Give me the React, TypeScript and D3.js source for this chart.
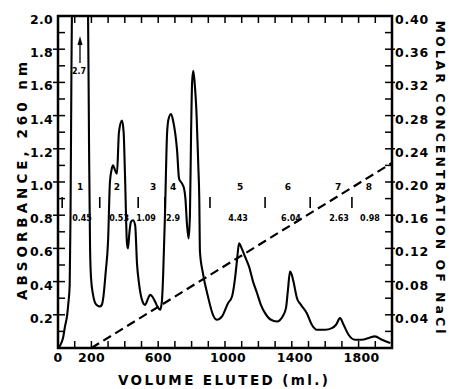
import React from "react";
import * as d3 from "d3";

const volume = [0, 15, 30, 42, 55, 62, 70, 75, 80, 84, 100, 130, 160, 180, 186, 192, 198, 210, 230, 250, 262, 272, 285, 300, 311, 320, 330, 342, 353, 365, 383, 393, 401, 413, 419, 428, 437, 449, 462, 473, 485, 503, 521, 540, 551, 565, 581, 595, 611, 622, 630, 641, 653, 662, 677, 689, 713, 725, 743, 755, 763, 772, 782, 790, 797, 803, 810, 818, 830, 840, 846, 850, 868, 898, 928, 952, 982, 1018, 1042, 1060, 1072, 1084, 1100, 1120, 1144, 1168, 1192, 1215, 1240, 1275, 1311, 1345, 1365, 1377, 1389, 1400, 1410, 1431, 1455, 1490, 1520, 1550, 1600, 1640, 1665, 1689, 1710, 1740, 1778, 1820, 1860, 1898, 1940, 1990];
const absorbance = [0, 0.02, 0.06, 0.13, 0.2, 0.27, 0.38, 0.8, 1.6, 2.1, 2.55, 2.7, 2.55, 2.0, 1.2, 0.6, 0.42, 0.32, 0.26, 0.25, 0.26, 0.31, 0.45, 0.65, 1.0, 1.07, 1.1, 1.07, 1.05, 1.3, 1.37, 1.3, 1.05, 0.63, 0.6, 0.7, 0.76, 0.77, 0.74, 0.51, 0.39, 0.29, 0.26, 0.3, 0.32, 0.31, 0.28, 0.25, 0.23, 0.28, 0.45, 0.82, 1.29, 1.38, 1.41, 1.37, 1.19, 1.02, 0.99, 0.96, 0.9, 0.75, 0.66, 0.8, 1.3, 1.6, 1.67, 1.6, 1.4, 1.1, 0.9, 0.58, 0.45, 0.31, 0.2, 0.17, 0.19, 0.27, 0.31, 0.42, 0.53, 0.63, 0.6, 0.55, 0.49, 0.4, 0.33, 0.26, 0.21, 0.17, 0.16, 0.19, 0.24, 0.35, 0.46, 0.44, 0.4, 0.3, 0.26, 0.21, 0.14, 0.11, 0.11, 0.12, 0.14, 0.18, 0.14, 0.08, 0.05, 0.05, 0.06, 0.07, 0.05, 0.03];

const gradientVolume = [200, 2000];
const gradientMolar = [0, 0.223];

const fractionBounds = [25, 250, 480, 640, 910, 1240, 1510, 1760];
const fractionNames = ["1", "2", "3", "4", "5", "6", "7", "8"];
const fractionNamePos = [132, 353, 569, 689, 1090, 1377, 1677, 1862];
const fractionValues = ["0.45", "0.53", "1.09", "2.9", "4.43", "6.04", "2.63", "0.98"];
const fractionValuePos = [144, 366, 527, 689, 1078, 1395, 1683, 1868];

const xTickLabels = [0, 200, 600, 1000, 1400, 1800];
const leftTickLabels = [0.2, 0.4, 0.6, 0.8, 1.0, 1.2, 1.4, 1.6, 1.8, 2.0];
const rightTickLabels = [0.04, 0.08, 0.12, 0.16, 0.2, 0.24, 0.28, 0.32, 0.36, 0.4];

const FONT = "'DejaVu Sans', sans-serif";

export default function App() {
  const L = 58, R = 392, T = 16, B = 348;
  const x = d3.scaleLinear().domain([0, 2000]).range([L, R]);
  const y = d3.scaleLinear().domain([0, 2.0]).range([B, T]);
  const yR = d3.scaleLinear().domain([0, 0.4]).range([B, T]);

  const pts = volume.map((v, i) => [v, absorbance[i]] as [number, number]);
  const line = d3.line<[number, number]>().x(d => x(d[0])).y(d => y(d[1])).curve(d3.curveMonotoneX);
  const gradLine = d3.line<[number, number]>().x(d => x(d[0])).y(d => yR(d[1]));
  const gradPts = gradientVolume.map((v, i) => [v, gradientMolar[i]] as [number, number]);

  const minorX = d3.range(100, 2000, 100);
  const leftTicks = d3.range(1, 20).map(i => i / 10);
  const rightTicks = d3.range(1, 20).map(i => i / 50);

  return (
    <svg width={453} height={389} style={{ position: "absolute", left: 0, top: 0, background: "#fff" }} fontFamily={FONT}>
      <defs>
        <clipPath id="plot">
          <rect x={L} y={T} width={R - L} height={B - T} />
        </clipPath>
      </defs>
      <rect x={0} y={0} width={453} height={389} fill="#fff" />
      {/* curve */}
      <g clipPath="url(#plot)">
        <path d={line(pts) || ""} fill="none" stroke="#000" strokeWidth={2.1} strokeLinejoin="round" />
        <path d={gradLine(gradPts) || ""} fill="none" stroke="#000" strokeWidth={2.2} strokeDasharray="9,5" />
      </g>
      {/* frame */}
      <rect x={L} y={T} width={R - L} height={B - T} fill="none" stroke="#000" strokeWidth={2.5} />
      {/* bottom & top ticks */}
      {minorX.map(v => (
        <g key={"xt" + v}>
          <line x1={x(v)} x2={x(v)} y1={B} y2={B - 7} stroke="#000" strokeWidth={1.5} />
          <line x1={x(v)} x2={x(v)} y1={T} y2={T + 7} stroke="#000" strokeWidth={1.5} />
        </g>
      ))}
      {/* left ticks */}
      {leftTicks.map((v, i) => {
        const major = (i + 1) % 2 === 0;
        return <line key={"lt" + i} x1={major ? L - 5 : L} x2={L + 7} y1={y(v)} y2={y(v)} stroke="#000" strokeWidth={1.5} />;
      })}
      {/* right ticks */}
      {rightTicks.map((v, i) => {
        const major = (i + 1) % 2 === 0;
        return <line key={"rt" + i} x1={R - 7} x2={major ? R + 3 : R} y1={yR(v)} y2={yR(v)} stroke="#000" strokeWidth={1.5} />;
      })}
      {/* tick labels */}
      {leftTickLabels.map(v => (
        <text key={"ll" + v} x={L - 5} y={y(v) + 8} textAnchor="end" fontSize={12.5} fontWeight="bold" letterSpacing={0.3}>{v.toFixed(1)}</text>
      ))}
      {rightTickLabels.map(v => (
        <text key={"rl" + v} x={R + 3} y={yR(v) + 8} textAnchor="start" fontSize={12.5} fontWeight="bold" letterSpacing={0.8}>{v.toFixed(2)}</text>
      ))}
      {xTickLabels.map(v => (
        <text key={"xl" + v} x={x(v) + (v >= 1000 ? 3 : 0)} y={362} textAnchor="middle" fontSize={12.5} fontWeight="bold" letterSpacing={0.3}>{String(v)}</text>
      ))}
      {/* axis titles */}
      <text x={223} y={385} textAnchor="middle" fontSize={13.5} fontWeight="bold" textLength={210} lengthAdjust="spacing">VOLUME ELUTED (ml.)</text>
      <text transform="translate(27,181) rotate(-90)" textAnchor="middle" fontSize={13.5} fontWeight="bold" textLength={238} lengthAdjust="spacing">ABSORBANCE, 260 nm</text>
      <text transform="translate(436,177) rotate(90)" textAnchor="middle" fontSize={12.5} fontWeight="bold" textLength={313} lengthAdjust="spacing">MOLAR CONCENTRATION OF NaCl</text>
      {/* fractions */}
      {fractionBounds.map(v => (
        <line key={"fb" + v} x1={x(v)} x2={x(v)} y1={197} y2={208} stroke="#000" strokeWidth={1.6} />
      ))}
      {fractionNames.map((n, i) => (
        <text key={"fn" + n} x={x(fractionNamePos[i])} y={190} textAnchor="middle" fontSize={9} fontWeight="bold">{n}</text>
      ))}
      {fractionValues.map((n, i) => (
        <text key={"fv" + i} x={x(fractionValuePos[i])} y={221} textAnchor="middle" fontSize={8} fontWeight="bold">{n}</text>
      ))}
      {/* off-scale peak annotation */}
      <line x1={80} x2={80} y1={63} y2={42} stroke="#000" strokeWidth={1.3} />
      <path d="M80,36 L77.5,45 L82.5,45 Z" fill="#000" />
      <text x={79} y={74} textAnchor="middle" fontSize={8} fontWeight="bold">2.7</text>
    </svg>
  );
}
